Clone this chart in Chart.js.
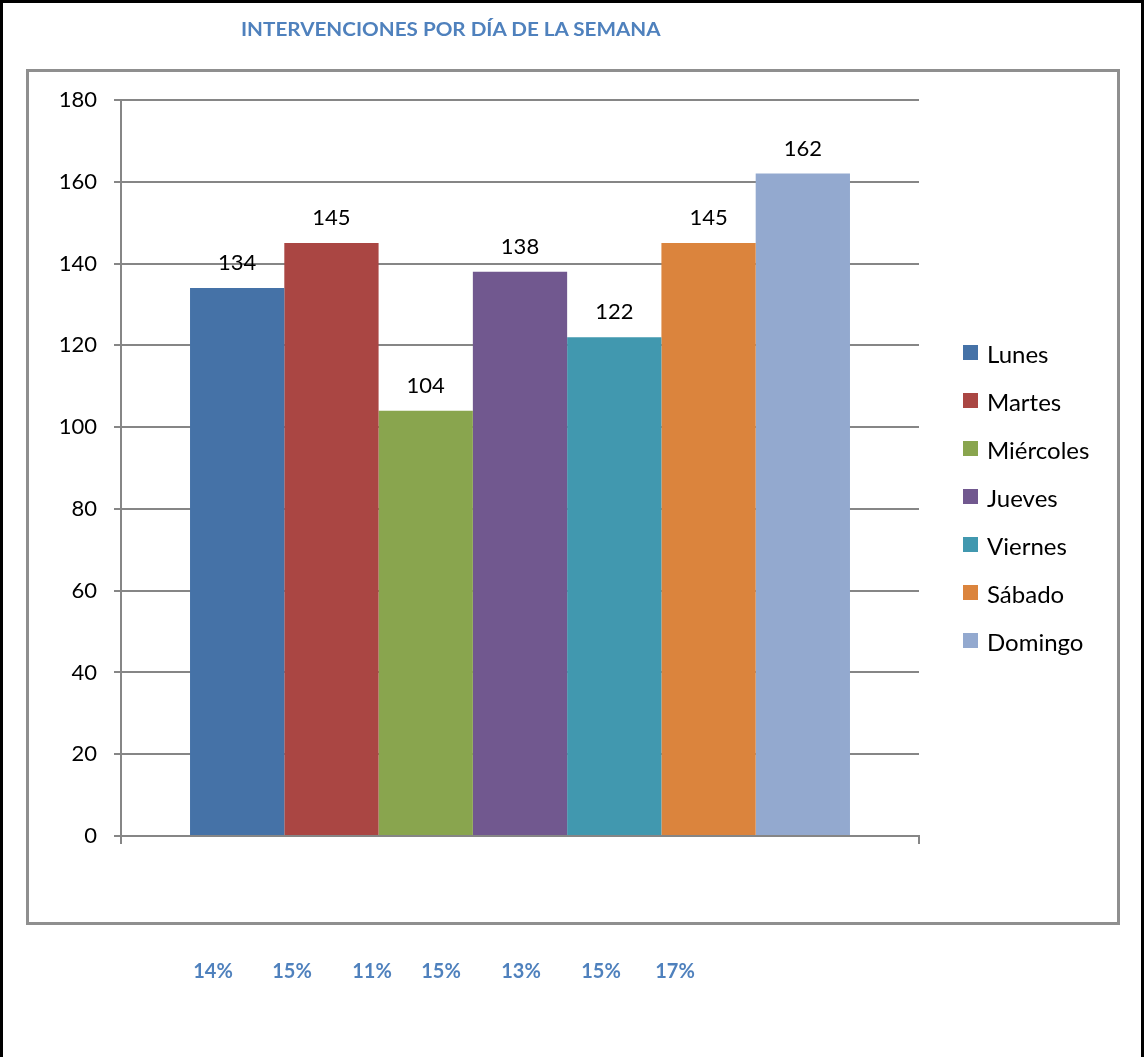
<!DOCTYPE html>
<html>
<head>
<meta charset="utf-8">
<script src="https://cdn.jsdelivr.net/npm/chart.js@4"></script>
<style>
  html, body { margin: 0; padding: 0; background: #fff; }
  #page {
    position: relative; width: 1144px; height: 1057px; overflow: hidden;
    box-sizing: border-box; border: 3px solid #000; border-bottom: none;
  }
  #box {
    position: absolute; left: 23px; top: 66px; width: 1094px; height: 856px;
    border: 3px solid #8f8f8f; box-sizing: border-box;
  }
  #chart { position: absolute; left: -3px; top: -3px; }
  #title {
    position: absolute; top: 15px; left: 238px; white-space: nowrap;
    font: bold 18px Lato, sans-serif; color: #4f81bd; transform-origin: left center;
  }
  .pct {
    position: absolute; top: 955px; white-space: nowrap;
    font: bold 20px Lato, sans-serif; color: #4f81bd; transform: translateX(-50%);
  }
  .leg {
    position: absolute; font: 24px Lato, sans-serif; color: #000; white-space: nowrap;
  }
  .leg span.sw { position: absolute; left: 0; width: 15px; height: 15px; }
</style>
</head>
<body>
<div id="page">
  <div id="box"></div>
  <canvas id="chart" width="1144" height="1057"></canvas>
  <div id="title">INTERVENCIONES POR DÍA DE LA SEMANA</div>
</div>
<script>
const days = ["Lunes", "Martes", "Miércoles", "Jueves", "Viernes", "Sábado", "Domingo"];
const counts = [134, 145, 104, 138, 122, 145, 162];
const shares = ["14%", "15%", "11%", "15%", "13%", "15%", "17%"];
const colors = ["#4572a7", "#aa4643", "#89a54e", "#71588f", "#4198af", "#db843d", "#93a9cf"];
const yTicks = [0, 20, 40, 60, 80, 100, 120, 140, 160, 180];

const page = document.getElementById("page");
const gridColor = "#868686";

// value labels over each bar
const barLabels = {
    id: "barLabels",
    afterDatasetsDraw(chart) {
        const ctx = chart.ctx;
        ctx.save();
        ctx.font = "22px Lato, sans-serif";
        ctx.fillStyle = "#000";
        ctx.textAlign = "center";
        ctx.textBaseline = "alphabetic";
        chart.data.datasets.forEach((ds, i) => {
            const bar = chart.getDatasetMeta(i).data[0];
            ctx.fillText(String(ds.data[0]), bar.x, bar.y - 18);
        });
        ctx.restore();
    }
};

const chart = new Chart(document.getElementById("chart"), {
    type: "bar",
    data: {
        labels: ["Intervenciones"],
        datasets: days.map((d, i) => ({
            label: d,
            data: [counts[i]],
            backgroundColor: colors[i],
            borderWidth: 0,
            categoryPercentage: 0.827,
            barPercentage: 1.0
        }))
    },
    options: {
        responsive: false,
        animation: false,
        devicePixelRatio: 1,
        layout: { padding: { top: 100, right: 225, left: 0, bottom: 0 } },
        plugins: { legend: { display: false }, title: { display: false }, tooltip: { enabled: false } },
        scales: {
            x: {
                offset: true,
                ticks: { display: false },
                grid: { drawOnChartArea: false, drawTicks: true, tickLength: 8, color: gridColor, lineWidth: 2 },
                border: { display: true, color: gridColor, width: 2 },
                afterFit(scale) { scale.height = 221; }
            },
            y: {
                min: 0,
                max: 180,
                afterBuildTicks(scale) { scale.ticks = yTicks.map(v => ({ value: v })); },
                ticks: { font: { family: "Lato", size: 22 }, color: "#000", padding: 17 },
                grid: { color: gridColor, lineWidth: 2, tickLength: 7 },
                border: { display: true, color: gridColor, width: 2 },
                afterFit(scale) { scale.width = 121; }
            }
        }
    },
    plugins: [barLabels]
});

// legend on the right
days.forEach((d, i) => {
    const el = document.createElement("div");
    el.className = "leg";
    el.style.left = "960px";
    el.style.top = (336 + i * 48) + "px";
    el.style.paddingLeft = "24px";
    el.style.lineHeight = "30px";
    el.innerHTML = '<span class="sw" style="background:' + colors[i] + ';top:6px"></span>' + d;
    page.appendChild(el);
});

// percentages under the chart
const pctX = [210, 289, 369, 438, 518, 598, 672];
shares.forEach((s, i) => {
    const el = document.createElement("div");
    el.className = "pct";
    el.style.left = pctX[i] + "px";
    el.textContent = s;
    page.appendChild(el);
});

// stretch the title to the reference width
const title = document.getElementById("title");
title.style.transform = "scaleX(" + (420 / title.offsetWidth) + ")";
</script>
</body>
</html>
